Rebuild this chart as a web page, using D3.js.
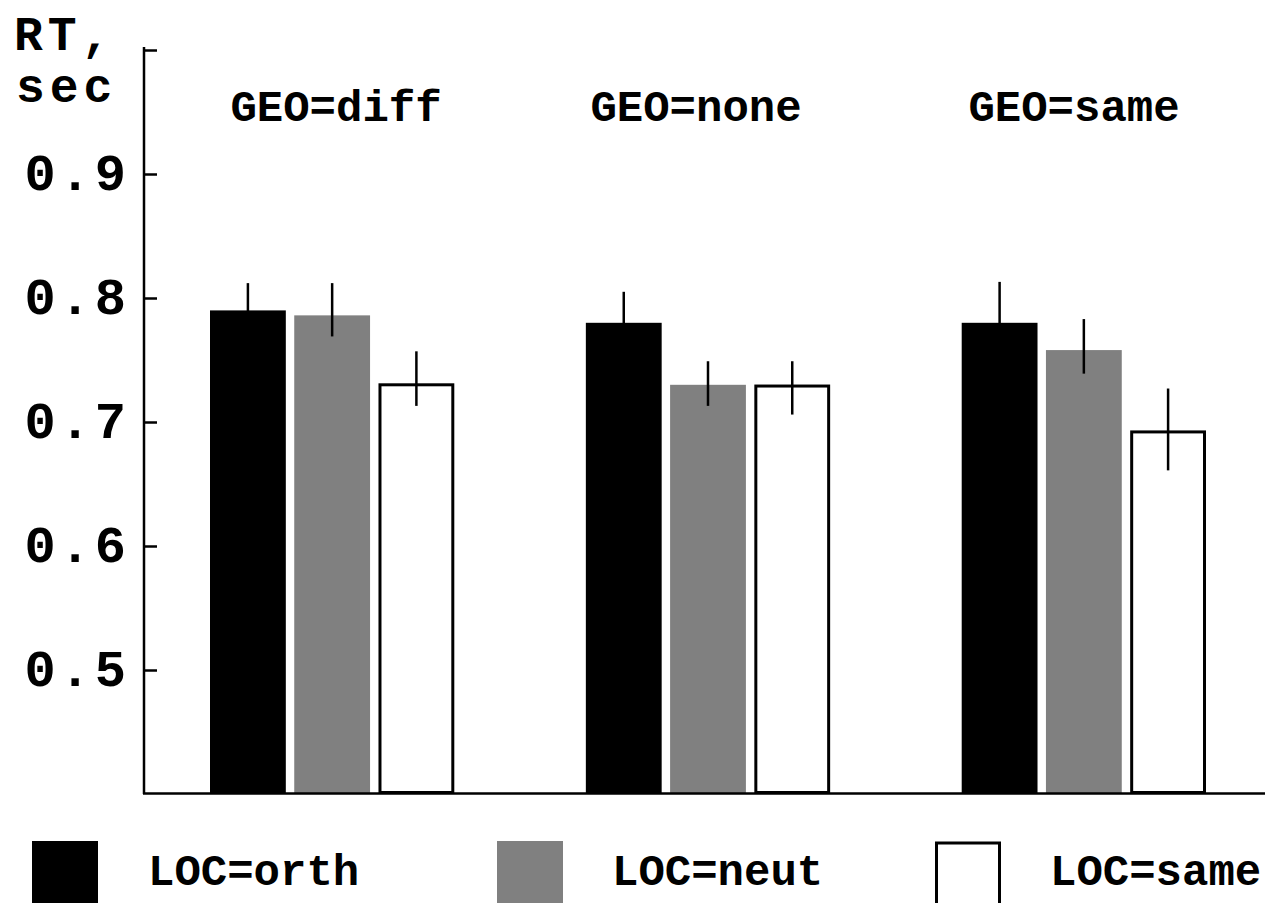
<!DOCTYPE html>
<html>
<head>
<meta charset="utf-8">
<script src="https://cdn.jsdelivr.net/npm/d3@7"></script>
<style>
  html, body { margin: 0; padding: 0; background: #fff; }
  svg { display: block; font-family: "Courier New", Courier, "Nimbus Mono PS", FreeMono, "Liberation Mono", monospace; font-weight: bold; }
</style>
</head>
<body>
<svg id="chart" width="1270" height="903"></svg>
<script>
// ---- data ----
const groups = ["GEO=diff", "GEO=none", "GEO=same"];
const series = ["LOC=orth", "LOC=neut", "LOC=same"];
const seriesFill = ["#000000", "#808080", "#ffffff"];
// mean RT per group, one array per series
const meanOrth = [0.790, 0.780, 0.780];
const meanNeut = [0.786, 0.730, 0.758];
const meanSame = [0.730, 0.729, 0.692];
// error bar upper / lower ends
const errHiOrth = [0.812, 0.805, 0.813];
const errLoOrth = [0.768, 0.755, 0.747];
const errHiNeut = [0.812, 0.749, 0.783];
const errLoNeut = [0.769, 0.713, 0.739];
const errHiSame = [0.757, 0.749, 0.727];
const errLoSame = [0.713, 0.706, 0.661];
const yTicks = [0.5, 0.6, 0.7, 0.8, 0.9, 1.0];
const yTickLabels = ["0.5", "0.6", "0.7", "0.8", "0.9", ""];

const means = [meanOrth, meanNeut, meanSame];
const errHi = [errHiOrth, errHiNeut, errHiSame];
const errLo = [errLoOrth, errLoNeut, errLoSame];

const rows = [];
groups.forEach((g, gi) => {
  series.forEach((s, si) => {
    rows.push({ group: g, series: s, si, value: means[si][gi], hi: errHi[si][gi], lo: errLo[si][gi] });
  });
});

// ---- layout ----
const svg = d3.select("#chart");
const axisX = 144, axisBottom = 794, axisTop = 47, axisRight = 1265;

const y = d3.scaleLinear().domain([0.4, 1.0]).range([794, 50]);
const x0 = d3.scaleBand().domain(groups).range([210, 1206]).paddingInner(0.35).paddingOuter(0);
const x1 = d3.scaleBand().domain(series).range([0, x0.bandwidth()]).paddingInner(0.1).paddingOuter(0);

// bars
const g = svg.append("g");
g.selectAll("rect.bar").data(rows).join("rect")
  .attr("class", "bar")
  .attr("x", d => x0(d.group) + x1(d.series) + (d.si === 2 ? 1.5 : 0))
  .attr("width", d => x1.bandwidth() - (d.si === 2 ? 3 : 0))
  .attr("y", d => y(d.value))
  .attr("height", d => y(0.4) - y(d.value) - (d.si === 2 ? 1.5 : 0))
  .attr("fill", d => seriesFill[d.si])
  .attr("stroke", d => d.si === 2 ? "#000" : "none")
  .attr("stroke-width", 3);

// error bars
g.selectAll("line.err").data(rows).join("line")
  .attr("class", "err")
  .attr("x1", d => x0(d.group) + x1(d.series) + x1.bandwidth() / 2)
  .attr("x2", d => x0(d.group) + x1(d.series) + x1.bandwidth() / 2)
  .attr("y1", d => y(d.hi))
  .attr("y2", d => y(d.lo))
  .attr("stroke", "#000")
  .attr("stroke-width", 2.5);

// y axis
const yAxis = d3.axisLeft(y).tickValues(yTicks).tickSize(0).tickPadding(14)
  .tickFormat((d, i) => yTickLabels[i]);
const ya = svg.append("g").attr("transform", `translate(${axisX},0)`).call(yAxis);
ya.select(".domain").remove();
ya.selectAll(".tick text")
  .attr("font-family", "'Courier New', Courier, 'Nimbus Mono PS', FreeMono, 'Liberation Mono', monospace")
  .attr("font-weight", "bold")
  .attr("font-size", 52)
  .attr("letter-spacing", 4)
  .attr("fill", "#000")
  .attr("dy", "0.3em");
ya.selectAll(".tick").append("line")
  .attr("x1", 0).attr("x2", 13)
  .attr("stroke", "#000").attr("stroke-width", 2.5);

svg.append("line")
  .attr("x1", axisX).attr("x2", axisX)
  .attr("y1", axisTop).attr("y2", axisBottom)
  .attr("stroke", "#000").attr("stroke-width", 2.5);
svg.append("line")
  .attr("x1", axisX - 1).attr("x2", axisRight)
  .attr("y1", axisBottom - 0.5).attr("y2", axisBottom - 0.5)
  .attr("stroke", "#000").attr("stroke-width", 2.5);

// y axis title
svg.append("text").attr("x", 14).attr("y", 50)
  .attr("font-size", 48).attr("letter-spacing", 5).text("RT,");
svg.append("text").attr("x", 16).attr("y", 102)
  .attr("font-size", 48).attr("letter-spacing", 5).text("sec");

// group labels
const groupLabelX = [336, 696, 1074];
svg.selectAll("text.geo").data(groups).join("text")
  .attr("class", "geo")
  .attr("x", (d, i) => groupLabelX[i])
  .attr("y", 121)
  .attr("text-anchor", "middle")
  .attr("font-size", 44)
  .text(d => d);

// legend
const legendBoxX = [32, 497, 935];
const legendTextX = [148, 612, 1050];
const leg = svg.append("g");
leg.selectAll("rect").data(series).join("rect")
  .attr("x", (d, i) => legendBoxX[i] + (i === 2 ? 1.5 : 0))
  .attr("y", (d, i) => i === 2 ? 843 : 841)
  .attr("width", (d, i) => i === 2 ? 63 : 66)
  .attr("height", 70)
  .attr("fill", (d, i) => seriesFill[i])
  .attr("stroke", (d, i) => i === 2 ? "#000" : "none")
  .attr("stroke-width", 3);
leg.selectAll("text").data(series).join("text")
  .attr("x", (d, i) => legendTextX[i])
  .attr("y", 885)
  .attr("font-size", 44)
  .text(d => d);
</script>
</body>
</html>
